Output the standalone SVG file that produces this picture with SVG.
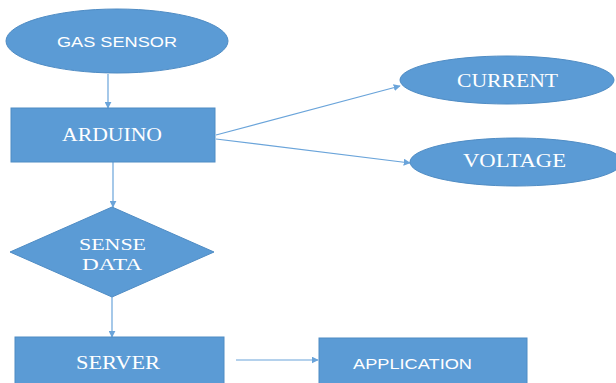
<svg xmlns="http://www.w3.org/2000/svg" width="616" height="383" viewBox="0 0 616 383">
<style>
.n{fill:#5b9bd5;stroke:#4f8cc4;stroke-width:1}
.t{fill:#fff;text-anchor:middle;dominant-baseline:central}
.s{font-family:"Liberation Sans",Arial,sans-serif;font-size:15px}
.r{font-family:"Liberation Serif","Times New Roman",serif;font-size:18px}
.d{font-size:16px}
.c{stroke:#6aa4da;stroke-width:1.2;fill:none;marker-end:url(#a)}
</style>
<defs>
<marker id="a" viewBox="0 0 10 10" refX="9" refY="5" markerWidth="7" markerHeight="7" orient="auto" markerUnits="userSpaceOnUse">
<path d="M0,0L10,5L0,10z" fill="#6aa4da"/>
</marker>
</defs>
<rect width="616" height="383" fill="#fff"/>
<g id="connectors">
<line class="c" x1="108" y1="74" x2="108" y2="108"/>
<line class="c" x1="113" y1="162" x2="113" y2="207"/>
<line class="c" x1="112" y1="297" x2="112" y2="337"/>
<line class="c" x1="216" y1="135" x2="400" y2="86"/>
<line class="c" x1="216" y1="139" x2="410" y2="163"/>
<line class="c" x1="236" y1="360" x2="318" y2="360"/>
</g>
<g id="gas-sensor">
<ellipse class="n" cx="117" cy="41" rx="111" ry="32"/>
<text class="t s" x="117" y="41" textLength="120" lengthAdjust="spacingAndGlyphs">GAS SENSOR</text>
</g>
<g id="arduino">
<rect class="n" x="11" y="108" width="204" height="54"/>
<text class="t r" x="112" y="135" textLength="100" lengthAdjust="spacingAndGlyphs">ARDUINO</text>
</g>
<g id="current">
<ellipse class="n" cx="507" cy="80" rx="107" ry="24"/>
<text class="t r" x="507.5" y="81" textLength="101" lengthAdjust="spacingAndGlyphs">CURRENT</text>
</g>
<g id="voltage">
<ellipse class="n" cx="516" cy="162" rx="106" ry="24"/>
<text class="t r" x="514.5" y="161" textLength="103" lengthAdjust="spacingAndGlyphs">VOLTAGE</text>
</g>
<g id="sense-data">
<polygon class="n" points="112,207 214,252 112,297 10,252"/>
<text class="t r d" x="112.5" y="244" textLength="67" lengthAdjust="spacingAndGlyphs">SENSE</text>
<text class="t r d" x="112" y="264" textLength="60" lengthAdjust="spacingAndGlyphs">DATA</text>
</g>
<g id="server">
<rect class="n" x="15" y="337" width="209" height="50"/>
<text class="t r" x="118" y="363" textLength="84" lengthAdjust="spacingAndGlyphs">SERVER</text>
</g>
<g id="application">
<rect class="n" x="319" y="338" width="208" height="50"/>
<text class="t s" x="412.5" y="363" textLength="119" lengthAdjust="spacingAndGlyphs">APPLICATION</text>
</g>
</svg>
